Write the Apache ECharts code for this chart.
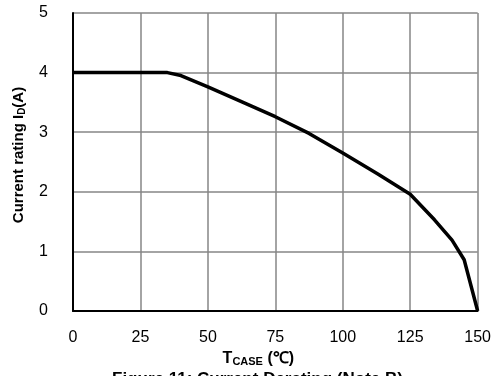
<!DOCTYPE html>
<html>
<head>
<meta charset="utf-8">
<script src="https://cdn.jsdelivr.net/npm/echarts@6/dist/echarts.min.js"></script>
<style>
  html, body { margin: 0; padding: 0; background: #fff; }
  #chart { width: 494px; height: 376px; }
</style>
</head>
<body>
<div id="chart"></div>
<script>
// temperature (°C) and current rating (A)
var tCase = [0, 35, 40, 50, 62, 75, 87.5, 100, 113, 125, 134, 140.5, 145, 150];
var currentRating = [4, 4, 3.95, 3.76, 3.52, 3.26, 2.98, 2.65, 2.3, 1.96, 1.53, 1.19, 0.86, 0];
var xTicks = [0, 25, 50, 75, 100, 125, 150];
var yTicks = [0, 1, 2, 3, 4, 5];

var points = tCase.map(function (t, i) {
  return [t, currentRating[i]];
});

var font = 'Liberation Sans, Arial, sans-serif';
var gridColor = '#868686';

var chart = echarts.init(document.getElementById('chart'));
chart.setOption({
  animation: false,
  grid: { left: 73, right: 15, top: 13, bottom: 65 },
  xAxis: {
    type: 'value',
    min: xTicks[0],
    max: xTicks[xTicks.length - 1],
    interval: 25,
    name: 'T{sub|CASE} (℃)',
    nameLocation: 'middle',
    nameGap: 38,
    nameTextStyle: {
      color: '#000', fontFamily: font, fontSize: 16, fontWeight: 'bold',
      padding: [0, 34, 0, 0],
      rich: {
        sub: { fontSize: 11, fontWeight: 'bold', fontFamily: font, color: '#000', verticalAlign: 'bottom', padding: [7, 0, 0, 0] }
      }
    },
    axisLine: { show: true, lineStyle: { color: '#000', width: 2 } },
    axisTick: { show: false },
    axisLabel: { color: '#000', fontFamily: font, fontSize: 16, margin: 19 },
    splitLine: { show: true, lineStyle: { color: gridColor, width: 1.5 } }
  },
  yAxis: {
    type: 'value',
    min: yTicks[0],
    max: yTicks[yTicks.length - 1],
    interval: 1,
    name: 'Current rating I{sub|D}(A)',
    nameLocation: 'middle',
    nameGap: 46,
    nameTextStyle: {
      color: '#000', fontFamily: font, fontSize: 15, fontWeight: 'bold',
      padding: [0, 0, 0, 14],
      rich: {
        sub: { fontSize: 10, fontWeight: 'bold', fontFamily: font, color: '#000', verticalAlign: 'bottom', padding: [7, 0, 0, 0] }
      }
    },
    axisLine: { show: true, lineStyle: { color: '#000', width: 2 } },
    axisTick: { show: false },
    axisLabel: { color: '#000', fontFamily: font, fontSize: 16, margin: 25 },
    splitLine: { show: true, lineStyle: { color: gridColor, width: 1.5 } }
  },
  graphic: [{
    type: 'text',
    left: 112,
    top: 371,
    style: {
      text: 'Figure 11: Current Derating (Note B)',
      fill: '#000',
      font: 'bold 17px ' + font
    }
  }],
  series: [{
    type: 'line',
    data: points,
    showSymbol: false,
    lineStyle: { color: '#000', width: 3.5 },
    z: 5
  }]
});
</script>
</body>
</html>
